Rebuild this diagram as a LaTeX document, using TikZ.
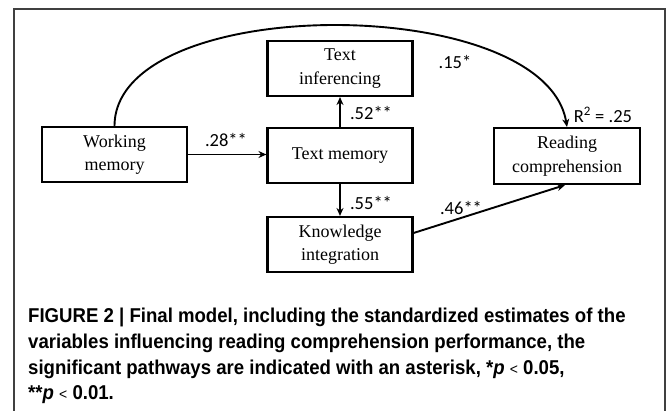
\documentclass[tikz,border=0pt]{standalone}
\usepackage{fontspec}
\setmainfont{Liberation Serif}
\newfontfamily\labfont{Carlito}
\newfontfamily\capfont[FakeStretch=0.93]{Liberation Sans}
\usetikzlibrary{arrows.meta}
\newcommand\lessth{{\mdseries\fontsize{15}{15}\selectfont<}}
\begin{document}
\begin{tikzpicture}[x=1pt,y=-1pt,
  box/.style={draw, line width=2.1pt, inner sep=0pt, align=center, minimum width=145pt, minimum height=55pt, font=\fontsize{18}{23.5}\selectfont},
  lab/.style={font=\labfont\fontsize{18.5}{20}\selectfont, inner sep=0pt},
  arr/.style={line width=1.9pt, -{Stealth[length=8pt,width=7pt]}},
  capline/.style={anchor=base west, inner sep=0pt, font=\capfont\bfseries\fontsize{20}{22}\selectfont}]
\useasboundingbox (0,0) rectangle (669,411);
\draw[line width=1.6pt, color=black!75] (14,411) -- (14,9) -- (665,9) -- (665,411);

\node[box] (wm) at (114.5,154.5) {Working\\memory};
\node[box] (ti) at (340,68.5) {Text\\inferencing};
\node[box] (tm) at (340,155.5) {Text memory};
\node[box] (ki) at (340,244.5) {Knowledge\\integration};
\node[box, minimum width=146pt, minimum height=56pt] (rc) at (567,156) {Reading\\comprehension};

\draw[arr] (wm.east) -- (wm.east -| tm.west);
\draw[arr] (tm.north) -- (ti.south);
\draw[arr] (tm.south) -- (ki.north);
\draw[arr] ([yshift=11.5pt]ki.east) -- ([xshift=-2pt]rc.south);
\draw[arr] (wm.north) .. controls (115,-8) and (545,-8) .. (rc.north);

\node[lab] (l28) at (226,140) {.28**};
\node[lab] (l52) at (371,113) {.52**};
\node[lab] (l55) at (371,203) {.55**};
\node[lab] (l15) at (455,62) {.15*};
\node[lab] (l46) at (461,208) {.46**};
\node[lab] (lr2) at (603,115) {R\textsuperscript{2} = .25};

\node[capline] (c1) at (28,323) {FIGURE 2 | Final model, including the standardized estimates of the};
\node[capline] (c2) at (28,348.5) {variables influencing reading comprehension performance, the};
\node[capline] (c3) at (28,374) {significant pathways are indicated with an asterisk, *\textit{p} \lessth\ 0.05,};
\node[capline] (c4) at (28,399.5) {**\textit{p} \lessth\ 0.01.};
\end{tikzpicture}
\end{document}
